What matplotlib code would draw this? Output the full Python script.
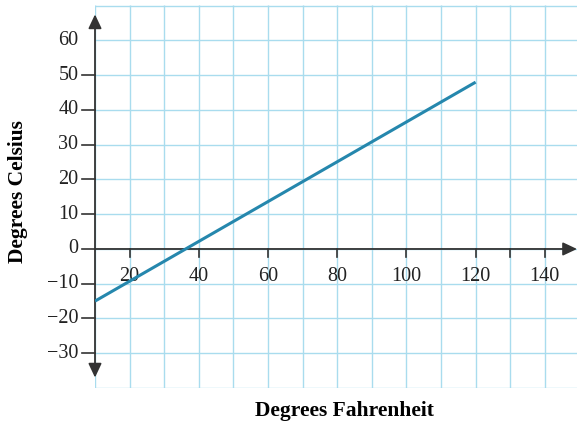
import numpy as np
import matplotlib.pyplot as plt

# datos
fahr = [10, 120]
cels = [-15, 48]

x_ticks = [20, 40, 60, 80, 100, 120, 140]
x_marks = [20, 40, 60, 80, 100, 120, 130, 140]
y_ticks = [60, 50, 40, 30, 20, 10, 0, -10, -20, -30]
y_labels = ["60", "50", "40", "30", "20", "10", "0", "\u221210", "\u221220", "\u221230"]

grid_x = np.arange(10, 150, 10)
grid_y = np.arange(-40, 80, 10)

plt.rcParams["font.family"] = ["Liberation Serif", "DejaVu Serif"]

fig = plt.figure(figsize=(5.77, 4.25), dpi=100)
W, H = 577, 425
ax = fig.add_axes([95 / W, (H - 388) / H, (W - 95) / W, (388 - 5) / H])
ax.set_xlim(10, 149.3)
ax.set_ylim(-40, 70.2)
ax.axis("off")

gc = "#a9dcee"
ax.vlines(grid_x, -40, 70.2, color=gc, lw=1.0, zorder=1)
ax.hlines(grid_y, 10, 149.3, color=gc, lw=1.0, zorder=1)

# ejes con flechas
estilo = dict(color="#333333", lw=1.3, mutation_scale=10, shrinkA=0, shrinkB=0)
ax.annotate("", xy=(10, 67.5), xytext=(10, -37),
            arrowprops=dict(arrowstyle="<|-|>,head_width=0.4,head_length=0.85", **estilo), zorder=3)
ax.annotate("", xy=(149.3, 0), xytext=(10, 0),
            arrowprops=dict(arrowstyle="-|>,head_width=0.4,head_length=0.85", **estilo), zorder=3)

# marcas
for x in x_marks:
    ax.plot([x, x], [0, -2.3], color="#333333", lw=1.2, zorder=3, clip_on=False)
for y in y_ticks:
    if y != 60:
        ax.plot([10, 6.2], [y, y], color="#333333", lw=1.2, zorder=3, clip_on=False)

for x in x_ticks:
    ax.text(x, -7.8, str(x), ha="center", va="center", fontsize=14.5, color="#222222", zorder=4)
for y, lab in zip(y_ticks, y_labels):
    ax.text(5.2, y, lab, ha="right", va="center", fontsize=14.5, color="#222222", clip_on=False)

ax.plot(fahr, cels, color="#2587ad", lw=2.2, zorder=5, solid_capstyle="butt")

fig.text(344 / W, 1 - 411 / H, "Degrees Fahrenheit", ha="center", va="center", fontsize=15.5, fontweight="bold")
fig.text(18 / W, 1 - 192 / H, "Degrees Celsius", ha="center", va="center", rotation=90, fontsize=15.5, fontweight="bold")

fig.savefig("out.png", dpi=100)
